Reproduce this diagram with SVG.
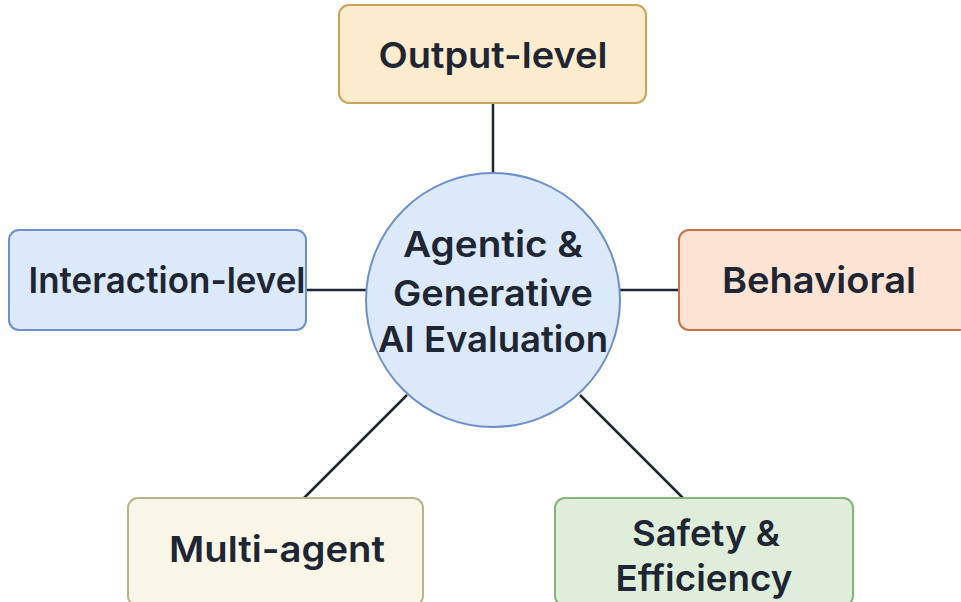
<svg xmlns="http://www.w3.org/2000/svg" width="961" height="602" viewBox="0 0 961 602">
  <style>
    .box { stroke-width: 2; }
    .lbl { font-family: Inter, "Liberation Sans", sans-serif; font-weight: 600; font-size: 36px; fill: #1e2533; text-anchor: middle; }
    .edge { stroke: #1e2533; stroke-width: 2.5; fill: none; }
  </style>
  <rect width="961" height="602" fill="#ffffff"/>
  <g id="connectors">
    <line class="edge" x1="493" y1="103" x2="493" y2="174"/>
    <line class="edge" x1="306" y1="290" x2="367" y2="290"/>
    <line class="edge" x1="620" y1="290" x2="679" y2="290"/>
    <line class="edge" x1="407" y1="395" x2="304" y2="498"/>
    <line class="edge" x1="580" y1="395" x2="683" y2="498"/>
  </g>
  <g id="output-level">
    <rect class="box" x="339" y="5" width="307" height="98" rx="10" fill="#fdebcd" stroke="#c9a55a"/>
    <text class="lbl" x="493" y="68" textLength="229" lengthAdjust="spacingAndGlyphs">Output-level</text>
  </g>
  <g id="interaction-level">
    <rect class="box" x="9" y="230" width="297" height="100" rx="10" fill="#dce9fb" stroke="#6d8fcc"/>
    <text class="lbl" x="167" y="293" textLength="277" lengthAdjust="spacingAndGlyphs">Interaction-level</text>
  </g>
  <g id="behavioral">
    <rect class="box" x="679" y="230" width="290" height="100" rx="10" fill="#fde3d4" stroke="#c9704b"/>
    <text class="lbl" x="819" y="293" textLength="194" lengthAdjust="spacingAndGlyphs">Behavioral</text>
  </g>
  <g id="multi-agent">
    <rect class="box" x="128" y="498" width="295" height="108" rx="10" fill="#faf6e7" stroke="#b8b38b"/>
    <text class="lbl" x="277" y="562" textLength="216" lengthAdjust="spacingAndGlyphs">Multi-agent</text>
  </g>
  <g id="safety-efficiency">
    <rect class="box" x="555" y="498" width="298" height="108" rx="10" fill="#dfeedb" stroke="#87b27b"/>
    <text class="lbl" x="706" y="546" textLength="148" lengthAdjust="spacingAndGlyphs">Safety &amp;</text>
    <text class="lbl" x="704" y="591" textLength="177" lengthAdjust="spacingAndGlyphs">Efficiency</text>
  </g>
  <g id="center">
    <circle cx="493" cy="300" r="127" fill="#dce9fb" stroke="#6d8fcc" stroke-width="2"/>
    <text class="lbl" x="493" y="257" textLength="180" lengthAdjust="spacingAndGlyphs">Agentic &amp;</text>
    <text class="lbl" x="493" y="306" textLength="200" lengthAdjust="spacingAndGlyphs">Generative</text>
    <text class="lbl" x="493" y="352" textLength="230" lengthAdjust="spacingAndGlyphs">AI Evaluation</text>
  </g>
</svg>
